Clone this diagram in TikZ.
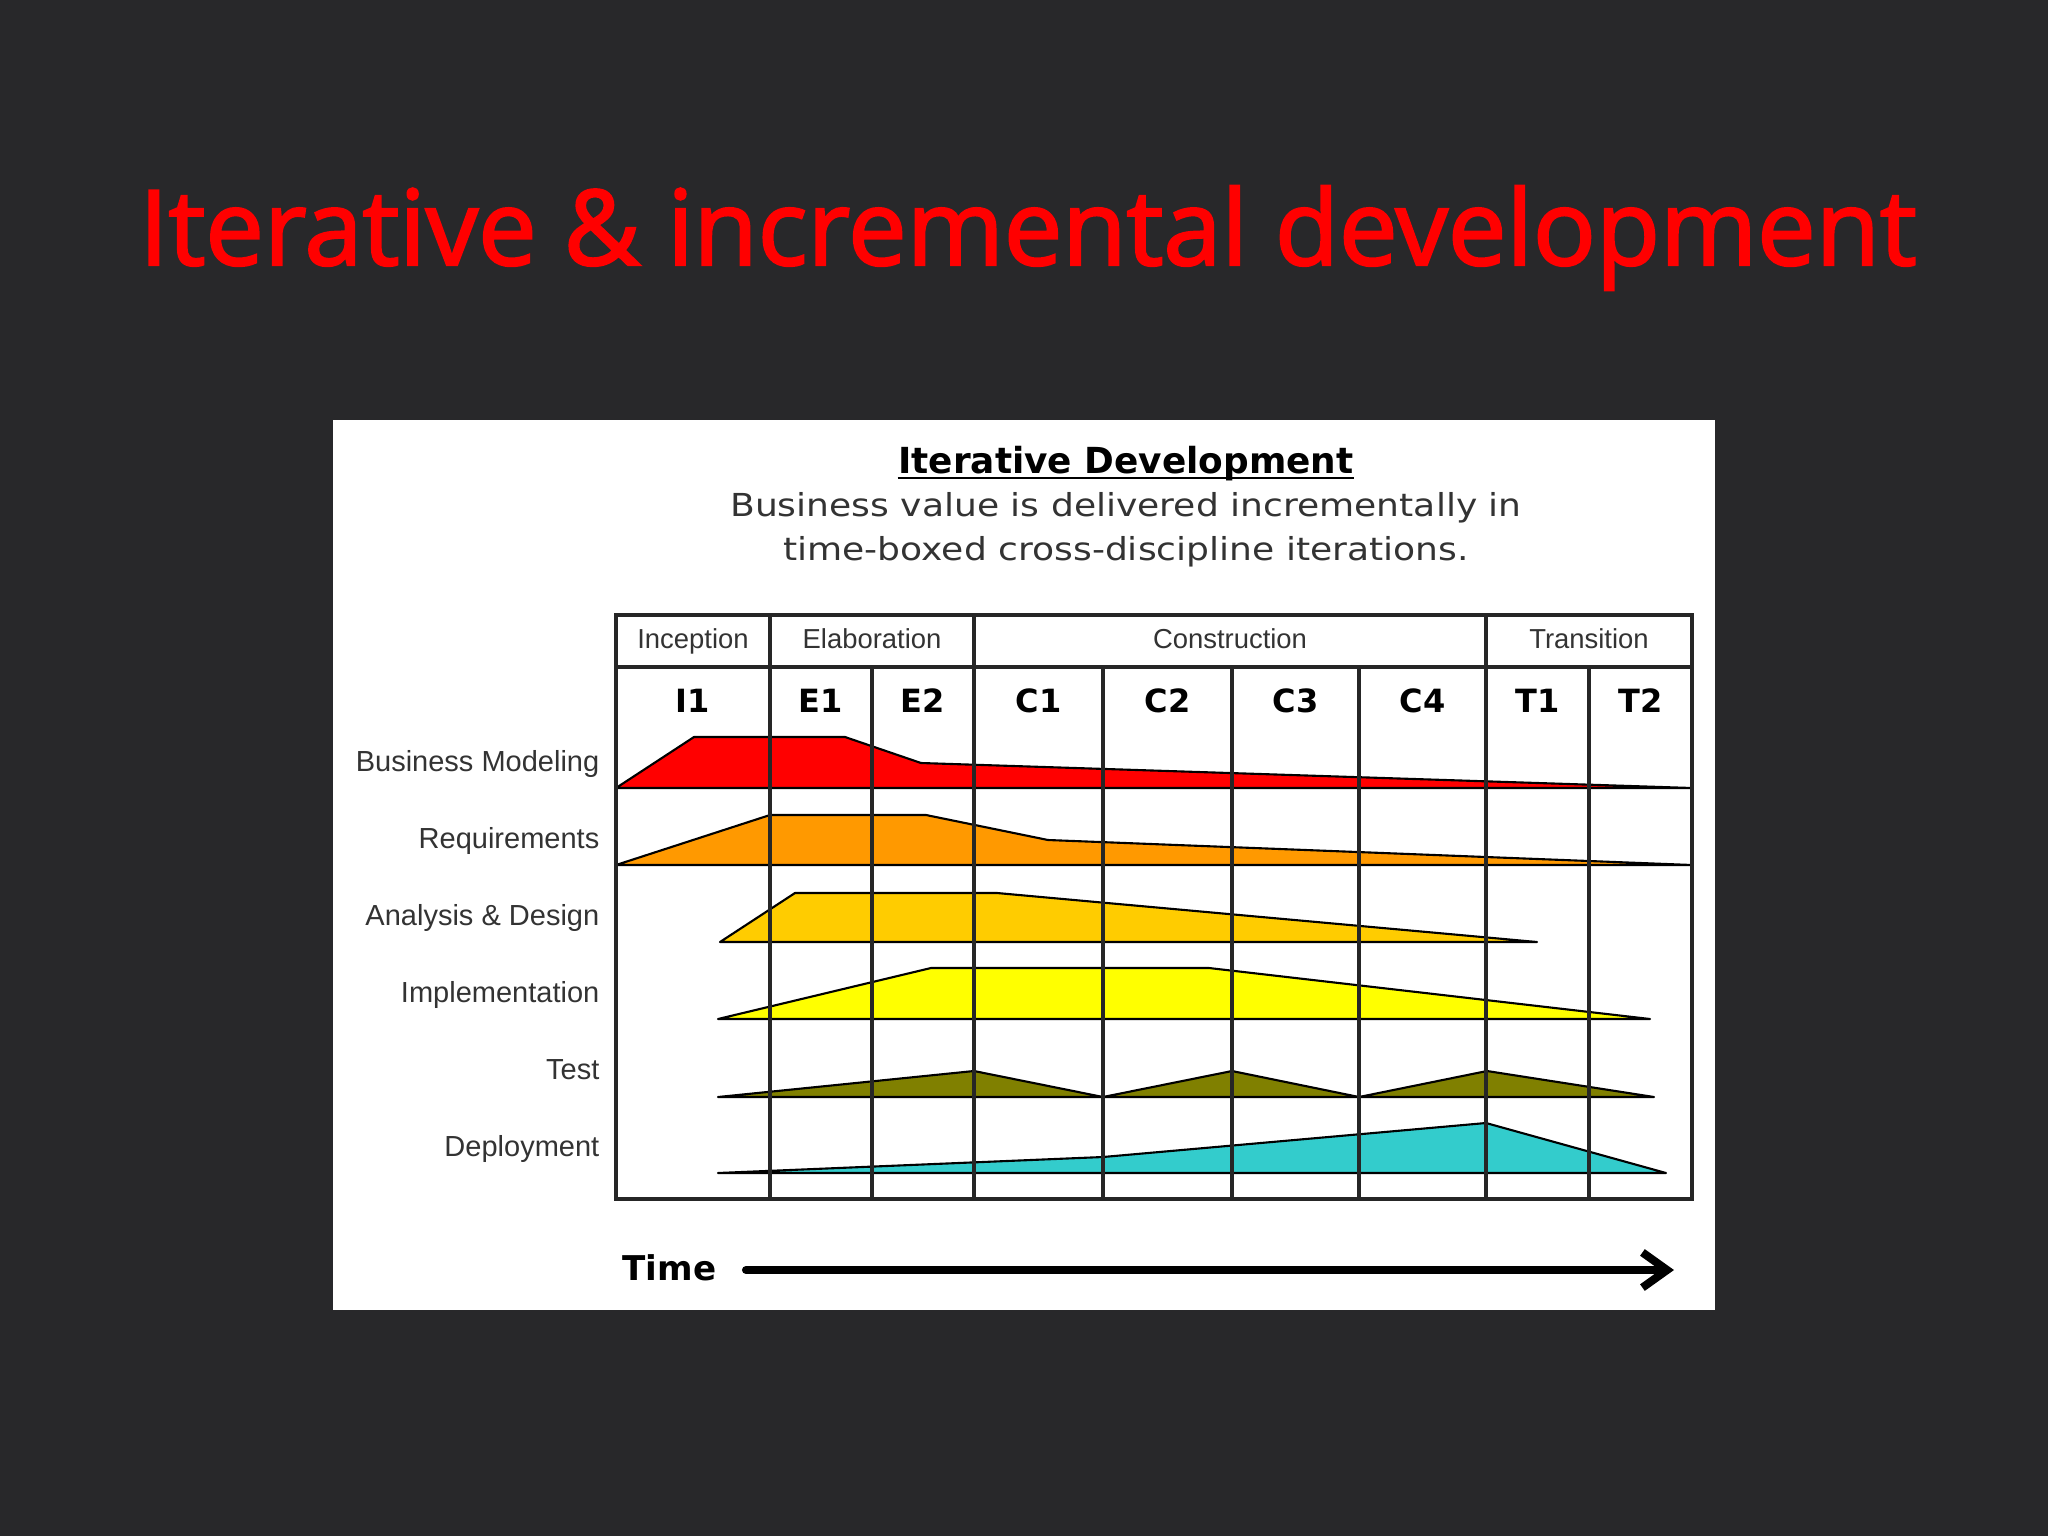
\documentclass[tikz,border=0pt]{standalone}
\usepackage{fontspec}
\setmainfont{Liberation Sans}
\newfontfamily\titlefont[FakeBold=2.2]{Open Sans}
\newfontfamily\verd{DejaVu Sans}
\usetikzlibrary{arrows.meta}
\definecolor{bg}{RGB}{40,40,42}
\definecolor{labelgray}{RGB}{51,51,51}
\definecolor{bmred}{RGB}{255,0,0}
\definecolor{reqorange}{RGB}{255,153,0}
\definecolor{adgold}{RGB}{255,204,0}
\definecolor{implyellow}{RGB}{255,255,0}
\definecolor{testolive}{RGB}{128,128,0}
\definecolor{depcyan}{RGB}{51,204,204}
\begin{document}
\begin{tikzpicture}[x=0.01cm,y=-0.01cm,
  lbl/.style={font=\fontsize{8.25pt}{10pt}\selectfont, text=labelgray, inner sep=0pt, anchor=base east},
  phase/.style={font=\fontsize{7.8pt}{9pt}\selectfont, text=labelgray, inner sep=0pt, anchor=base},
  iter/.style={font=\verd\bfseries\fontsize{9.1pt}{11pt}\selectfont, inner sep=0pt, anchor=base},
  subt/.style={font=\verd\fontsize{9pt}{11pt}\selectfont, text=labelgray, inner sep=0pt, anchor=base},
  wf/.style={draw=black, line width=0.6pt, line join=round},
  gridline/.style={draw=black!85, line width=0.9pt}]
\fill[bg] (0,0) rectangle (2048,1536);
\useasboundingbox (0,0) rectangle (2048,1536);
\fill[white] (333,420) rectangle (1715,1310);

% title
\node[anchor=base, text=red, font=\titlefont\fontsize{29.7pt}{32pt}\selectfont, inner sep=0pt] (title) at (1028,265) {Iterative \& incremental development};

% heading
\node[anchor=base, font=\verd\bfseries\fontsize{10.2pt}{12pt}\selectfont, inner sep=0pt] (hd) at (1126,473) {Iterative Development};
\draw[line width=0.7pt] ([yshift=-1.4pt]hd.base west) -- ([yshift=-1.4pt]hd.base east);
\node[subt] (sub1) at (1126,516) {\scalebox{1.14}[1]{Business value is delivered incrementally in}};
\node[subt] (sub2) at (1126,560) {\scalebox{1.14}[1]{time-boxed cross-discipline iterations.}};

% workflows
\filldraw[wf, fill=bmred] (616,788) -- (694,737) -- (845,737) -- (921,763) -- (1692,788) -- cycle;
\filldraw[wf, fill=reqorange] (616,865) -- (770,815) -- (926,815) -- (1048,840) -- (1692,865) -- cycle;
\filldraw[wf, fill=adgold] (720,942) -- (795,893) -- (997,893) -- (1537,942) -- cycle;
\filldraw[wf, fill=implyellow] (718,1019) -- (931,968) -- (1209,968) -- (1650,1019) -- cycle;
\filldraw[wf, fill=testolive] (718,1097) -- (974,1071) -- (1103,1097) -- (1232,1071) -- (1359,1097) -- (1487,1071) -- (1654,1097) -- cycle;
\filldraw[wf, fill=depcyan] (718,1173) -- (1103,1157) -- (1486,1123) -- (1666,1173) -- cycle;

% grid
\draw[gridline] (616,615) rectangle (1692,1199);
\draw[gridline] (616,667) -- (1692,667);
\foreach \x in {770,974,1486} \draw[gridline] (\x,615) -- (\x,1199);
\foreach \x in {872,1103,1232,1359,1589} \draw[gridline] (\x,667) -- (\x,1199);

% phase labels
\node[phase] (pI) at (693,648) {Inception};
\node[phase] (pE) at (872,648) {Elaboration};
\node[phase] (pC) at (1230,648) {Construction};
\node[phase] (pT) at (1589,648) {Transition};

% iteration labels
\node[iter] (i1) at (693,712) {I1};
\node[iter] (e1) at (821,712) {E1};
\node[iter] (e2) at (923,712) {E2};
\node[iter] (c1) at (1038.5,712) {C1};
\node[iter] (c2) at (1167.5,712) {C2};
\node[iter] (c3) at (1295.5,712) {C3};
\node[iter] (c4) at (1422.5,712) {C4};
\node[iter] (t1) at (1537.5,712) {T1};
\node[iter] (t2) at (1640.5,712) {T2};

% row labels
\node[lbl] (lbm) at (600,771) {Business Modeling};
\node[lbl] (lreq) at (600,848) {Requirements};
\node[lbl] (lad) at (600,925) {Analysis \& Design};
\node[lbl] (limp) at (600,1002) {Implementation};
\node[lbl] (ltest) at (600,1079) {Test};
\node[lbl] (ldep) at (600,1156) {Deployment};

% time arrow
\node[anchor=base west, font=\verd\bfseries\fontsize{9.7pt}{11pt}\selectfont, inner sep=0pt] (time) at (622,1280) {Time};
\coordinate (ts) at (746,1270);
\coordinate (te) at (1674,1270);
\draw[line width=2.3pt, line cap=round, -{Straight Barb[length=7pt,width=10pt]}] (ts) -- (te);
\end{tikzpicture}
\end{document}
